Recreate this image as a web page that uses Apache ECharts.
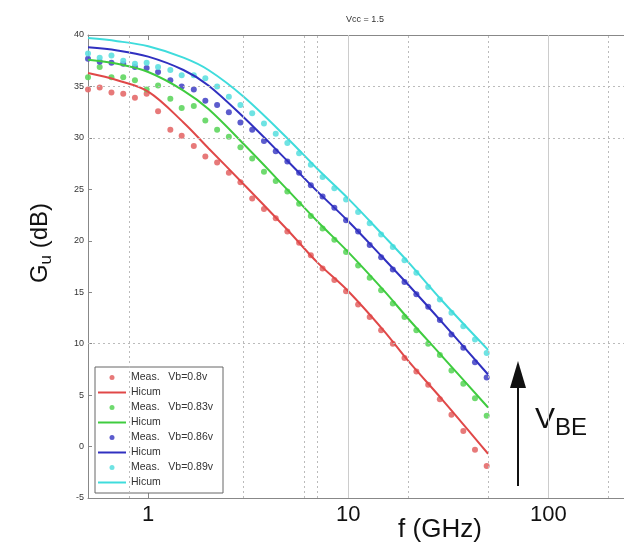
<!DOCTYPE html>
<html><head><meta charset="utf-8">
<script src="https://cdn.jsdelivr.net/npm/echarts@6/dist/echarts.min.js"></script>
<style>html,body{margin:0;padding:0;background:#fff}#c{width:624px;height:552px}</style>
</head><body><div id="c"></div>
<script>
// Measured frequencies (GHz)
const freqMeas = [0.5, 0.572, 0.655, 0.75, 0.858, 0.982, 1.12, 1.29, 1.47, 1.69, 1.93, 2.21, 2.53, 2.89, 3.31, 3.79, 4.34, 4.96, 5.68, 6.5, 7.44, 8.52, 9.75, 11.2, 12.8, 14.6, 16.7, 19.1, 21.9, 25.1, 28.7, 32.8, 37.6, 43.0, 49.2];
const measRed   = [34.7, 34.9, 34.4, 34.3, 33.9, 34.3, 32.6, 30.8, 30.2, 29.2, 28.2, 27.6, 26.6, 25.7, 24.1, 23.1, 22.2, 20.9, 19.8, 18.6, 17.3, 16.2, 15.1, 13.8, 12.6, 11.3, 10.0, 8.6, 7.3, 6.0, 4.6, 3.1, 1.5, -0.3, -1.9];
const measGreen = [35.9, 36.9, 35.9, 35.9, 35.6, 34.7, 35.1, 33.8, 32.9, 33.1, 31.7, 30.8, 30.1, 29.1, 28.0, 26.7, 25.8, 24.8, 23.6, 22.4, 21.2, 20.1, 18.9, 17.6, 16.4, 15.2, 13.9, 12.6, 11.3, 10.0, 8.9, 7.4, 6.1, 4.7, 3.0];
const measBlue  = [37.7, 37.4, 37.3, 37.2, 36.9, 36.8, 36.4, 35.6, 35.0, 34.7, 33.6, 33.2, 32.5, 31.5, 30.8, 29.7, 28.7, 27.7, 26.6, 25.4, 24.3, 23.2, 22.0, 20.9, 19.6, 18.4, 17.2, 16.0, 14.8, 13.6, 12.3, 10.9, 9.6, 8.2, 6.7];
const measCyan  = [38.2, 37.8, 38.0, 37.5, 37.2, 37.3, 36.9, 36.6, 36.1, 36.1, 35.8, 35.0, 34.0, 33.2, 32.4, 31.4, 30.4, 29.5, 28.5, 27.4, 26.2, 25.1, 24.0, 22.8, 21.7, 20.6, 19.4, 18.1, 16.9, 15.5, 14.3, 13.0, 11.7, 10.4, 9.1];
// Model (Hicum) curves
const freqLine  = [0.5, 0.7, 1, 1.5, 2, 3, 5, 7, 10, 15, 20, 30, 50];
const lineRed   = [36.3, 35.6, 34.5, 31.5, 29.0, 25.5, 21.0, 17.9, 15.1, 11.3, 8.3, 4.4, -0.7];
const lineGreen = [37.6, 37.2, 36.4, 34.6, 32.8, 29.4, 24.9, 21.9, 18.9, 15.2, 12.4, 8.6, 3.8];
const lineBlue  = [38.8, 38.5, 37.9, 36.6, 35.1, 32.0, 27.7, 24.8, 21.9, 18.3, 15.7, 11.9, 7.0];
const lineCyan  = [39.7, 39.4, 38.9, 37.8, 36.6, 34.0, 29.9, 27.0, 24.1, 20.5, 17.9, 14.0, 9.4];
const measNames = ['Meas.   Vb=0.8v', 'Meas.   Vb=0.83v', 'Meas.   Vb=0.86v', 'Meas.   Vb=0.89v'];
const lineNames = ['Hicum', 'Hicum ', 'Hicum  ', 'Hicum   '];
const xTickLabels = [1, 10, 100];
const yTicks = [-5, 0, 5, 10, 15, 20, 25, 30, 35, 40];
const vGridDashed = [0.8, 3, 6, 7, 20, 50, 200];
const vGridSolid = [10, 100];
const hGridDashed = [35, 30, 10];

const ptColors = ['#e46a6a', '#5fd65f', '#4a4ac8', '#5fe0e0'];
const lnColors = ['#e04848', '#3fcc3f', '#3030c0', '#3fdcdc'];
const measSets = [measRed, measGreen, measBlue, measCyan];
const lineSets = [lineRed, lineGreen, lineBlue, lineCyan];
const FONT = 'Liberation Sans, Arial, sans-serif';

const pair = (xs, ys) => xs.map((x, i) => [x, ys[i]]);

const series = [];
series.push({
  type: 'line', data: [], silent: true, z: 1,
  markLine: {
    silent: true, symbol: 'none', label: { show: false }, animation: false,
    data: [
      ...vGridDashed.map(v => ({ xAxis: v, lineStyle: { color: '#bbb', type: [2, 3], width: 1 } })),
      ...vGridSolid.map(v => ({ xAxis: v, lineStyle: { color: '#ccc', type: 'solid', width: 1 } })),
      ...hGridDashed.map(v => ({ yAxis: v, lineStyle: { color: '#bbb', type: [2, 3], width: 1 } }))
    ]
  }
});
for (let k = 0; k < 4; k++) {
  series.push({
    name: measNames[k], type: 'scatter', symbol: 'circle', symbolSize: 6, z: 3,
    itemStyle: { color: ptColors[k], opacity: 0.9 },
    data: pair(freqMeas, measSets[k])
  });
  series.push({
    name: lineNames[k], type: 'line', symbol: 'none', smooth: 0.35, z: 4,
    lineStyle: { color: lnColors[k], width: 2 }, itemStyle: { color: lnColors[k] },
    data: pair(freqLine, lineSets[k])
  });
}
const legendData = [];
for (let k = 0; k < 4; k++) {
  legendData.push({ name: measNames[k], icon: 'circle', itemStyle: { color: ptColors[k] } });
  legendData.push({ name: lineNames[k], icon: 'path://M0,0 L28,0 L28,2 L0,2 Z', itemStyle: { color: lnColors[k] } });
}

const isLabel = v => xTickLabels.some(t => Math.abs(v - t) < 1e-6 * t);
const axisCommon = { lineStyle: { color: '#888' } };

const option = {
  animation: false,
  backgroundColor: '#fff',
  textStyle: { fontFamily: FONT },
  grid: { left: 88, top: 35, right: 0, height: 463, show: false },
  legend: {
    orient: 'vertical', left: 95, top: 367, data: legendData,
    itemWidth: 28, itemHeight: 5, itemGap: 4,
    padding: [5, 10, 5, 3], borderColor: '#666', borderWidth: 1, backgroundColor: '#fff',
    textStyle: { fontSize: 10.5, color: '#333', fontFamily: FONT }
  },
  xAxis: [{
    type: 'log', logBase: 10, min: 0.5, max: 239,
    axisLine: { show: true, onZero: false, ...axisCommon },
    axisTick: { show: true, inside: true, length: 5, ...axisCommon },
    axisLabel: { fontSize: 22, color: '#111', margin: 6, fontFamily: FONT, showMinLabel: false, showMaxLabel: false,
      formatter: v => isLabel(v) ? String(Math.round(v)) : '' },
    splitLine: { show: false }
  }, {
    type: 'log', logBase: 10, min: 0.5, max: 239, position: 'top',
    axisLine: { show: true, onZero: false, ...axisCommon },
    axisTick: { show: true, inside: true, length: 5, ...axisCommon },
    axisLabel: { show: false }, splitLine: { show: false }
  }],
  yAxis: {
    type: 'value', min: yTicks[0], max: yTicks[yTicks.length - 1], interval: 5,
    axisLine: { show: true, onZero: false, ...axisCommon },
    axisTick: { show: true, inside: true, length: 4, ...axisCommon },
    axisLabel: { fontSize: 9, color: '#333', margin: 4, fontFamily: FONT },
    splitLine: { show: false }
  },
  series: series,
  graphic: [
    { type: 'text', x: 365, y: 20, style: { text: 'Vcc = 1.5', fontSize: 9, fill: '#333', align: 'center', verticalAlign: 'middle', fontFamily: FONT } },
    { type: 'text', x: 40, y: 243, rotation: Math.PI / 2,
      style: { text: '{g|G}{s|u}{g| (dB)}', align: 'center', verticalAlign: 'middle', fill: '#111', fontFamily: FONT,
        rich: { g: { fontSize: 24, fontFamily: FONT, fill: '#111' }, s: { fontSize: 17, fontFamily: FONT, fill: '#111', padding: [12, 0, 0, 0] } } } },
    { type: 'text', x: 440, y: 530, style: { text: 'f (GHz)', fontSize: 26, fill: '#111', align: 'center', verticalAlign: 'middle', fontFamily: FONT } },
    { type: 'line', shape: { x1: 518, y1: 486, x2: 518, y2: 385 }, style: { stroke: '#111', lineWidth: 2 } },
    { type: 'polygon', shape: { points: [[518, 361], [510, 388], [526, 388]] }, style: { fill: '#111' } },
    { type: 'text', x: 535, y: 440, style: { text: '{v|V}{s|BE}', align: 'left', verticalAlign: 'bottom', fill: '#111', fontFamily: FONT,
      rich: { v: { fontSize: 30, fontFamily: FONT, fill: '#111' }, s: { fontSize: 24, fontFamily: FONT, fill: '#111', padding: [16, 0, 0, 0] } } } }
  ]
};
const chart = echarts.init(document.getElementById('c'));
chart.setOption(option);
</script></body></html>
